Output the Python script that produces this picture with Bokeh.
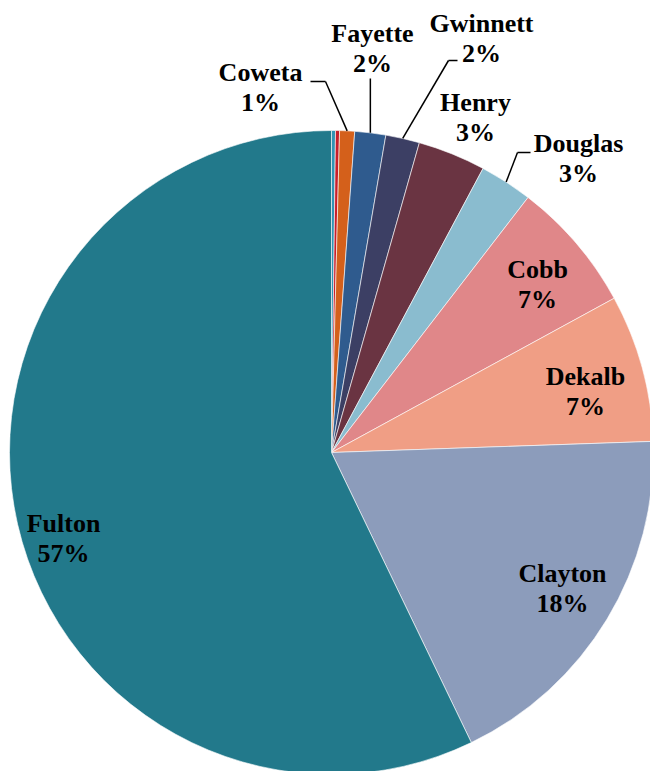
import math
from bokeh.plotting import figure
from bokeh.models import Range1d, ColumnDataSource
from bokeh.core.properties import value
from bokeh.embed import file_html
from bokeh.resources import INLINE

# ---- data (share of total, %; clockwise from 12 o'clock) ----
counties = ["Other 1", "Other 2", "Coweta", "Fayette", "Gwinnett", "Henry",
            "Douglas", "Cobb", "Dekalb", "Clayton", "Fulton"]
shares = [0.2, 0.2, 0.75, 1.55, 1.7, 3.4, 2.65, 6.6, 7.4, 18.4, 57.15]
colors = ["#3293b4", "#c81e2b", "#d4601b", "#2f5b8e", "#3c3f64", "#6a3442",
          "#8abccf", "#e08789", "#f09e85", "#8c9cbb", "#22798b"]
show_label = [False, False, True, True, True, True, True, True, True, True, True]

# ---- layout (screen pixel positions of label centres and leader elbows) ----
CX, CY, R = 331, 452, 322
label_pos = {
    "Coweta": (260, 87), "Fayette": (372, 48), "Gwinnett": (481, 38),
    "Henry": (475, 117), "Douglas": (578, 158), "Cobb": (537, 284),
    "Dekalb": (585, 391), "Clayton": (562, 588), "Fulton": (63, 538),
}
leaders = {  # elbow, end
    "Coweta": ((325, 81), (310, 81)),
    "Fayette": (None, (None, 78)),
    "Gwinnett": ((448, 60), (457, 60)),
    "Douglas": ((517, 152), (530, 152)),
}
LINE_GAP = 15

W, H = 650, 771
p = figure(width=W, height=H, output_backend="svg", toolbar_location=None,
           x_range=Range1d(0, W), y_range=Range1d(-H, 0), min_border=0)
p.axis.visible = False
p.grid.visible = False
p.outline_line_color = None

total = sum(shares)
starts, ends, mids = [], [], []
cum = 0.0
for s in shares:
    a0 = cum / total
    cum += s
    a1 = cum / total
    starts.append(math.pi / 2 - a0 * 2 * math.pi)
    ends.append(math.pi / 2 - a1 * 2 * math.pi)
    mids.append((a0 + a1) / 2 * 2 * math.pi)  # clockwise from top

src = ColumnDataSource(dict(start=starts, end=ends, color=colors, name=counties))
p.wedge(x=CX, y=-CY, radius=R, start_angle="start", end_angle="end",
        direction="clock", fill_color="color", line_color="white",
        line_width=0.6, source=src)

# labels (one text glyph per string), drawn before the leader lines
for name, s, show in zip(counties, shares, show_label):
    if not show:
        continue
    x, y = label_pos[name]
    for t, yy in ((name, y - LINE_GAP), (f"{round(s / total * 100)}%", y + LINE_GAP)):
        p.text(x=[x], y=[-yy], text=[t],
               text_font=value("Liberation Serif"), text_font_style="bold",
               text_font_size="26px", text_align="center", text_baseline="middle",
               text_color="black")

# leader lines as segments
sx0, sy0, sx1, sy1 = [], [], [], []
for name, (elbow, end) in leaders.items():
    i = counties.index(name)
    ex = CX + R * math.sin(mids[i])
    ey = CY - R * math.cos(mids[i])
    if elbow is None:
        pts = [(ex, ey), (ex, end[1])]
    else:
        pts = [(ex, ey), elbow, end]
    for (a, b), (c, d) in zip(pts[:-1], pts[1:]):
        sx0.append(a); sy0.append(-b); sx1.append(c); sy1.append(-d)
p.segment(x0=sx0, y0=sy0, x1=sx1, y1=sy1, line_color="black", line_width=1.5)

open("out.html", "w").write(file_html(p, INLINE))
